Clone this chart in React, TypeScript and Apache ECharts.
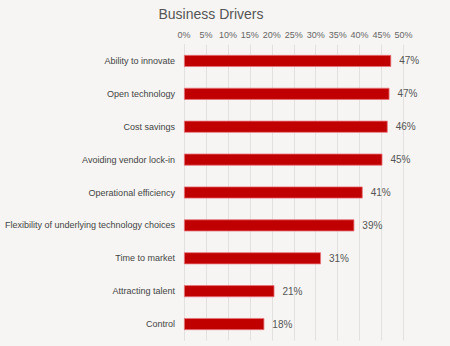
import React, { useEffect, useRef } from "react";
import * as echarts from "echarts";

const categories = [
  "Ability to innovate",
  "Open technology",
  "Cost savings",
  "Avoiding vendor lock-in",
  "Operational efficiency",
  "Flexibility of underlying technology choices",
  "Time to market",
  "Attracting talent",
  "Control",
];
const values = [47.2, 46.8, 46.4, 45.2, 40.7, 38.8, 31.2, 20.6, 18.3];
const labels = ["47%", "47%", "46%", "45%", "41%", "39%", "31%", "21%", "18%"];

export default function App() {
  const ref = useRef<HTMLDivElement>(null);
  useEffect(() => {
    const chart = echarts.init(ref.current!, null, { renderer: "svg" });
    chart.setOption({
      animation: false,
      backgroundColor: "#f6f5f3",
      textStyle: { fontFamily: "Liberation Sans" },
      title: {
        text: "Business Drivers",
        left: 206,
        top: 2,
        textAlign: "center",
        textStyle: { fontSize: 14, fontWeight: "normal", color: "#555" },
      },
      grid: { left: 184, right: 46.5, top: 44.5, bottom: 5.5, outerBoundsMode: "none" },
      xAxis: {
        type: "value",
        position: "top",
        min: 0,
        max: 50,
        interval: 5,
        axisLabel: { formatter: "{value}%", color: "#666", fontSize: 9, margin: 5 },
        axisLine: { show: false },
        axisTick: { show: false },
        splitLine: { lineStyle: { color: "#e2e1df", width: 1 } },
      },
      yAxis: {
        type: "category",
        data: categories,
        inverse: true,
        axisLabel: { color: "#444", fontSize: 9, margin: 9 },
        axisLine: { show: true, lineStyle: { color: "#e2e1df" } },
        axisTick: { show: false },
      },
      series: [
        {
          type: "bar",
          data: values,
          barWidth: 12,
          itemStyle: { color: "#c00000", borderColor: "#e8747a", borderWidth: 0.8 },
          label: {
            show: true,
            position: "right",
            distance: 8,
            color: "#555",
            fontSize: 10,
            formatter: (p: any) => labels[p.dataIndex],
          },
        },
      ],
    });
    return () => chart.dispose();
  }, []);
  return (
    <div
      ref={ref}
      style={{ position: "fixed", left: 0, top: 0, width: 450, height: 346 }}
    />
  );
}
